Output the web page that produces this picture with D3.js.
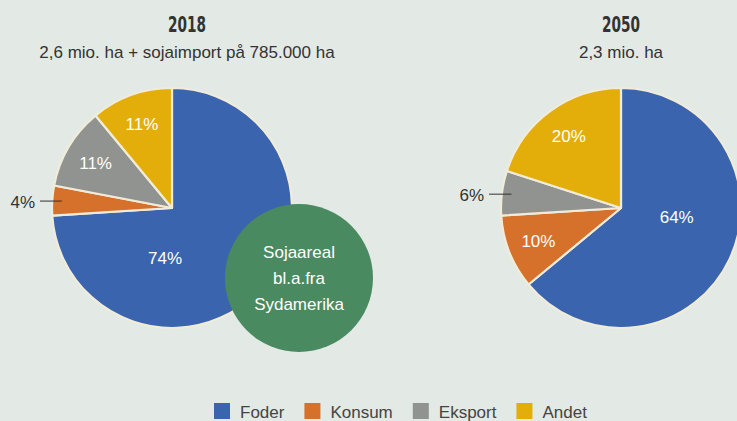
<!DOCTYPE html>
<html>
<head>
<meta charset="utf-8">
<script src="https://cdn.jsdelivr.net/npm/d3@7"></script>
<style>
  html, body { margin: 0; padding: 0; background: #e3e9e4; }
  svg { display: block; }
  .title { font-stretch: condensed; }
</style>
</head>
<body>
<div id="chart"></div>
<script>
// ── Data ──
var categories = ["Foder", "Konsum", "Eksport", "Andet"];
var colours = ["#3a64ae", "#d6712b", "#909390", "#e3ad0a"];
var values2018 = [74, 4, 11, 11];
var values2050 = [64, 10, 6, 20];
var titles = ["2018", "2050"];
var subtitles = ["2,6 mio. ha + sojaimport på 785.000 ha", "2,3 mio. ha"];
var sojaLines = ["Sojaareal", "bl.a.fra", "Sydamerika"];

var width = 737, height = 421;
var radius = 120;
var font = "'Liberation Sans', Arial, Helvetica, sans-serif";
var titleFont = "'Liberation Sans Narrow', 'DejaVu Sans Condensed', 'DejaVu Sans', sans-serif";

var svg = d3.select("#chart").append("svg")
  .attr("width", width).attr("height", height);

svg.append("rect").attr("width", width).attr("height", height).attr("fill", "#e3e9e4");

var colour = d3.scaleOrdinal().domain(categories).range(colours);

var pie = d3.pie().sort(null).value(function (d) { return d.value; });
var arc = d3.arc().innerRadius(0).outerRadius(radius);
var labelArc = d3.arc().innerRadius(radius * 0.74).outerRadius(radius * 0.74);

// label tweaks per panel: small slices go outside with a leader line,
// large Foder label is pulled in toward the centre
var panels = [
  { values: values2018, cx: 172, cy: 208, titleX: 187, outside: ["Konsum"], foderLabel: [188, 0.42] },
  { values: values2050, cx: 621, cy: 208, titleX: 621, outside: ["Eksport"], foderLabel: [99, 0.47] }
];

panels.forEach(function (p, i) {
  // titles (squeezed to a narrow face, whatever font is found)
  var tt = svg.append("text")
    .attr("class", "title")
    .attr("x", p.titleX).attr("y", 32)
    .attr("text-anchor", "middle")
    .attr("font-family", titleFont).attr("font-weight", 700)
    .attr("font-size", 22).attr("fill", "#333")
    .text(titles[i]);
  var tw = tt.node().getComputedTextLength();
  if (tw > 40) {
    var s = 38 / tw;
    tt.attr("x", 0).attr("y", 0)
      .attr("transform", "translate(" + p.titleX + ",32) scale(" + s + ",1)");
  }
  svg.append("text")
    .attr("x", p.titleX).attr("y", 58)
    .attr("text-anchor", "middle")
    .attr("font-family", font).attr("font-size", 17).attr("fill", "#333")
    .text(subtitles[i]);

  var data = categories.map(function (c, j) { return { name: c, value: p.values[j] }; });
  var arcs = pie(data);

  var g = svg.append("g").attr("transform", "translate(" + p.cx + "," + p.cy + ")");

  g.selectAll(".slice")
    .data(arcs).join("path")
      .attr("class", "slice")
      .attr("d", arc)
      .attr("fill", function (d) { return colour(d.data.name); })
      .attr("stroke", "#f1ecd9").attr("stroke-width", 2.2)
      .attr("stroke-linejoin", "round");

  // inside labels
  g.selectAll(".slice-label")
    .data(arcs.filter(function (d) { return p.outside.indexOf(d.data.name) < 0; }))
    .join("text")
      .attr("class", "slice-label")
      .attr("transform", function (d) {
        var c;
        if (d.data.name === "Foder") {
          var a = p.foderLabel[0] * Math.PI / 180, r = p.foderLabel[1] * radius;
          c = [r * Math.sin(a), -r * Math.cos(a)];
        } else {
          c = labelArc.centroid(d);
        }
        return "translate(" + c[0] + "," + c[1] + ")";
      })
      .attr("dy", "0.35em")
      .attr("text-anchor", "middle")
      .attr("font-family", font).attr("font-size", 17).attr("fill", "#fff")
      .text(function (d) { return d.data.value + "%"; });

  // outside labels with leader line
  arcs.filter(function (d) { return p.outside.indexOf(d.data.name) >= 0; }).forEach(function (d) {
    var mid = (d.startAngle + d.endAngle) / 2;
    var r0 = radius * 0.92;
    var x0 = r0 * Math.sin(mid), y0 = -r0 * Math.cos(mid);
    var x1 = -radius - 12;
    g.append("line")
      .attr("x1", x0).attr("y1", y0).attr("x2", x1).attr("y2", y0)
      .attr("stroke", "#333").attr("stroke-width", 1);
    g.append("text")
      .attr("x", x1 - 5).attr("y", y0 + 1)
      .attr("dy", "0.35em")
      .attr("text-anchor", "end")
      .attr("font-family", font).attr("font-size", 17).attr("fill", "#333")
      .text(d.data.value + "%");
  });
});

// Soja bubble
var soja = svg.append("g").attr("transform", "translate(299,278)");
soja.append("circle").attr("r", 74).attr("fill", "#4a8a60");
soja.selectAll("text")
  .data(sojaLines).join("text")
    .attr("x", 0)
    .attr("y", function (d, i) { return (i - 1) * 26; })
    .attr("dy", "0.35em")
    .attr("text-anchor", "middle")
    .attr("font-family", font).attr("font-size", 17).attr("fill", "#fff")
    .text(function (d) { return d; });

// Legend
var legend = svg.append("g").attr("transform", "translate(214,403)");
var lx = 0;
categories.forEach(function (c) {
  var item = legend.append("g").attr("transform", "translate(" + lx + ",0)");
  item.append("rect").attr("width", 16).attr("height", 16).attr("fill", colour(c));
  var t = item.append("text")
    .attr("x", 26).attr("y", 15)
    .attr("font-family", font).attr("font-size", 17).attr("fill", "#444")
    .text(c);
  lx += 26 + t.node().getComputedTextLength() + 20;
});
</script>
</body>
</html>
